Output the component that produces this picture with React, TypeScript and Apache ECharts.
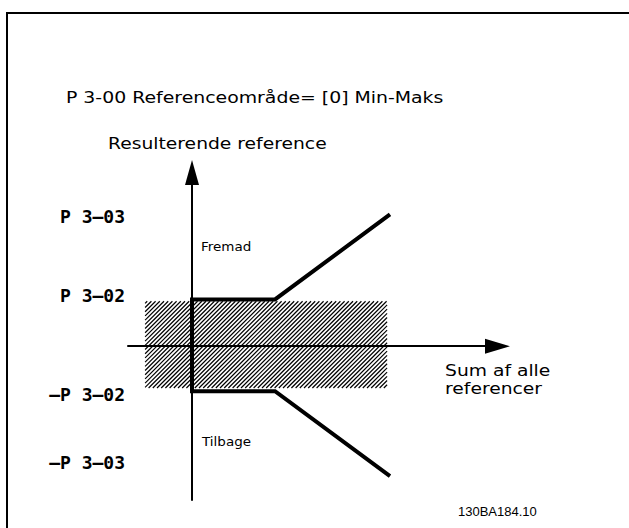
import React, { useEffect, useRef } from "react";
import * as echarts from "echarts";

// Axis extents (abstract units; 0 = axis crossing)
const xRange = [-1.542, 7.36];
const yRange = [-3.348, 3.783];

// Y tick positions and labels
const yTickValues = [2.83, 1.11, -1.04, -2.54];
const yTickLabels = ["P 3–03", "P 3–02", "–P 3–02", "–P 3–03"];

// Resulting reference curve (upper branch, vertical jump, lower branch)
const referenceCurve = [
  [4.77, 2.87],
  [2.0, 1.02],
  [0, 1.02],
  [0, -0.98],
  [2.0, -0.98],
  [4.77, -2.83],
];

// Hatched dead band [xStart, yTop, xEnd, yBottom]
const deadBand = [[-1.13, 0.98, 4.7, -0.91]];

const titleText = "P 3-00 Referenceområde= [0] Min-Maks";
const yName = "Resulterende reference";
const xName = "Sum af alle\nreferencer";
const forwardText = "Fremad";
const reverseText = "Tilbage";
const figureId = "130BA184.10";

export default function App() {
  const ref = useRef<HTMLDivElement>(null);
  useEffect(() => {
    document.body.style.margin = "0";
    const chart = echarts.init(ref.current!, null, { renderer: "svg" });
    const font = "'DejaVu Sans', Verdana, sans-serif";
    chart.setOption({
      animation: false,
      backgroundColor: "#ffffff",
      grid: {
        left: 128,
        right: 131.5,
        top: 172.5,
        bottom: 28,
        containLabel: false,
        outerBoundsMode: "none",
      },
      xAxis: {
        type: "value",
        min: xRange[0],
        max: xRange[1],
        splitLine: { show: false },
        axisTick: { show: false },
        axisLabel: { show: false },
        axisLine: {
          show: true,
          onZero: true,
          symbol: ["none", "triangle"],
          symbolSize: [15, 25],
          lineStyle: { color: "#000", width: 2 },
        },
      },
      yAxis: {
        type: "value",
        min: yRange[0],
        max: yRange[1],
        splitLine: { show: false },
        axisTick: { show: false },
        axisLine: {
          show: true,
          onZero: true,
          symbol: ["none", "triangle"],
          symbolSize: [14, 25],
          lineStyle: { color: "#000", width: 2 },
        },
        axisLabel: {
          show: true,
          customValues: yTickValues,
          margin: 3,
          color: "#000",
          fontFamily: "'DejaVu Sans Mono', monospace",
          fontWeight: "bold",
          fontSize: 18,
          formatter: (v: number) => {
            const i = yTickValues.findIndex((t) => Math.abs(t - v) < 1e-6);
            return i >= 0 ? yTickLabels[i] : "";
          },
        },
      },
      series: [
        {
          type: "custom",
          clip: false,
          z: 1,
          encode: { x: [0, 2], y: [1, 3] },
          data: deadBand,
          renderItem: (params: any, api: any) => {
            const p0 = api.coord([api.value(0), api.value(1)]);
            const p1 = api.coord([api.value(2), api.value(3)]);
            const x0 = Math.min(p0[0], p1[0]);
            const x1 = Math.max(p0[0], p1[0]);
            const y0 = Math.min(p0[1], p1[1]);
            const y1 = Math.max(p0[1], p1[1]);
            const step = 4.2;
            const children: any[] = [];
            for (let c = x0 + y0 + step / 2; c < x1 + y1; c += step) {
              const xa = Math.max(x0, c - y1);
              const xb = Math.min(x1, c - y0);
              if (xb > xa) {
                children.push({
                  type: "line",
                  shape: { x1: xa, y1: c - xa, x2: xb, y2: c - xb },
                  style: { stroke: "#000", lineWidth: 1.2 },
                });
              }
            }
            return { type: "group", children };
          },
        },
        {
          type: "line",
          data: referenceCurve,
          symbol: "none",
          z: 5,
          lineStyle: { color: "#000", width: 4, join: "miter" },
        },
      ],
      graphic: [
        {
          type: "rect",
          shape: { x: 7, y: 13, width: 660, height: 560 },
          style: { fill: "none", stroke: "#000", lineWidth: 2 },
          silent: true,
        },
        {
          type: "text",
          x: 66,
          y: 98,
          scaleX: 1.18,
          style: { text: titleText, font: `16px ${font}`, fill: "#000", verticalAlign: "middle" },
        },
        {
          type: "text",
          x: 108,
          y: 143,
          scaleX: 1.17,
          style: { text: yName, font: `16px ${font}`, fill: "#000", verticalAlign: "middle" },
        },
        {
          type: "text",
          x: 445,
          y: 361,
          scaleX: 1.17,
          style: { text: xName, font: `16px ${font}`, lineHeight: 18, fill: "#000", verticalAlign: "top" },
        },
        {
          type: "text",
          x: 201,
          y: 247,
          scaleX: 1.08,
          style: { text: forwardText, font: `12.5px ${font}`, fill: "#000", verticalAlign: "middle" },
        },
        {
          type: "text",
          x: 202,
          y: 442,
          scaleX: 1.08,
          style: { text: reverseText, font: `12.5px ${font}`, fill: "#000", verticalAlign: "middle" },
        },
        {
          type: "text",
          x: 458,
          y: 511,
          style: { text: figureId, font: `13px 'Liberation Sans', Arial, sans-serif`, fill: "#000", verticalAlign: "middle" },
        },
      ],
    });
    return () => chart.dispose();
  }, []);
  return <div ref={ref} style={{ width: 629, height: 528 }} />;
}
